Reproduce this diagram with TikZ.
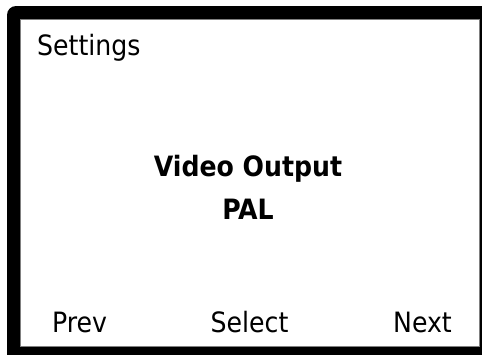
\documentclass[tikz,border=0pt]{standalone}
\usepackage{fontspec}
\setmainfont{DejaVu Sans Condensed}
\usetikzlibrary{positioning}
\tikzset{
  screen frame/.style={
    fill=black,
    rounded corners=9pt
  },
  screen face/.style={
    draw=gray,
    fill=white,
    line width=1pt
  },
  screen text/.style={
    inner sep=0pt,
    font=\fontsize{28}{32}\selectfont
  },
  title text/.style={
    screen text,
    font=\fontsize{28}{32}\selectfont\bfseries
  }
}

\begin{document}
\begin{tikzpicture}[x=1pt, y=-1pt]
  \useasboundingbox (0,0) rectangle (482,354);
  \clip (0,0) rectangle (482,354);
  \fill[screen frame] (7,6) rectangle (500,370);
  \draw[screen face] (20,19.5) rectangle (479.5,346.5);

  \node[screen text, anchor=base west] (title) at (37,55) {Settings};
  \node[title text, anchor=base]  (item)  at (248,176) {Video Output};
  \node[title text, anchor=base]  (value) at (248,219) {PAL};

  \node[screen text, anchor=base west] (prev)   at (52,332)    {Prev};
  \node[screen text, anchor=base]      (select) at (249.5,332) {Select};
  \node[screen text, anchor=base east] (next)   at (452,332)   {Next};
\end{tikzpicture}
\end{document}
